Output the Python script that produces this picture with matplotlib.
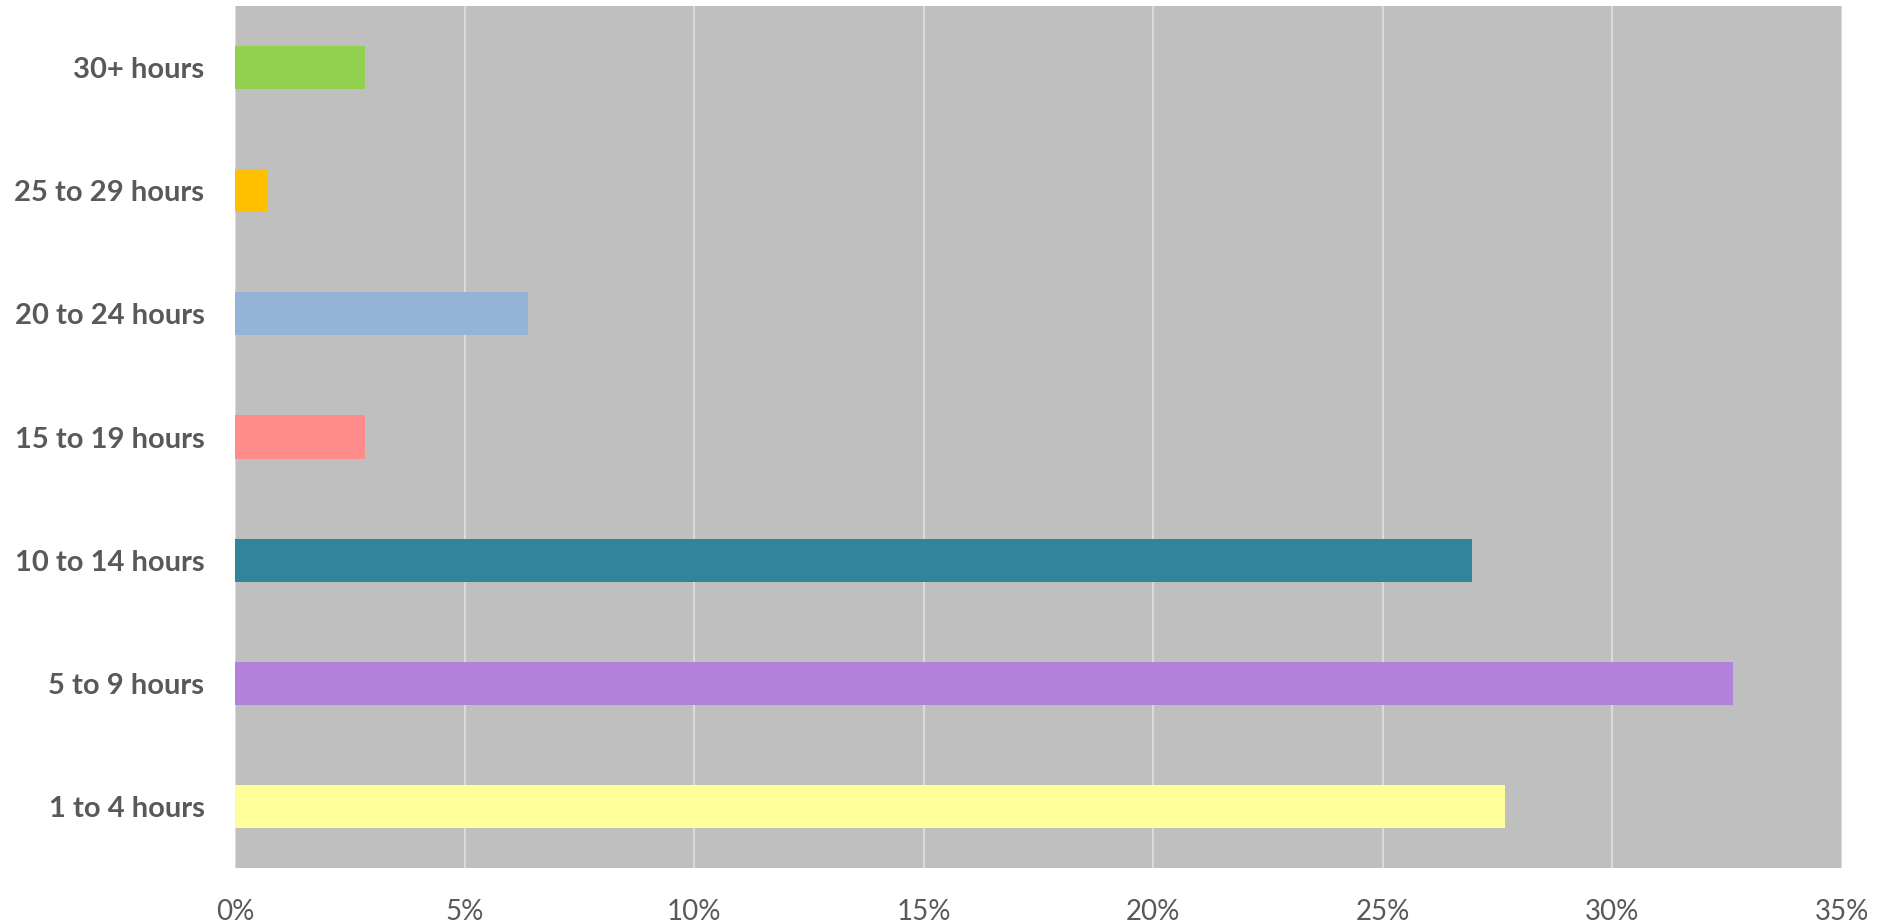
import matplotlib.pyplot as plt
from matplotlib.ticker import FuncFormatter

categories = ["1 to 4 hours", "5 to 9 hours", "10 to 14 hours", "15 to 19 hours",
              "20 to 24 hours", "25 to 29 hours", "30+ hours"]
values = [27.66, 32.62, 26.95, 2.84, 6.38, 0.71, 2.84]
colors = ["#FFFF99", "#B281DA", "#31849B", "#FF8B8B", "#95B3D7", "#FFC000", "#92D050"]

plt.rcParams["font.family"] = ["Lato", "DejaVu Sans"]

fig = plt.figure(figsize=(18.77, 9.23), dpi=100)
ax = fig.add_axes([235 / 1877, 1 - 868 / 923, (1842 - 235) / 1877, (868 - 6) / 923])

ax.set_facecolor("#BFBFBF")
ax.barh(range(len(categories)), values, height=0.35, color=colors, zorder=3)

ax.set_xlim(0, 35)
ax.set_ylim(-0.5, len(categories) - 0.5)
ax.set_xticks(range(0, 36, 5))
ax.xaxis.set_major_formatter(FuncFormatter(lambda v, p: f"{v:.0f}%"))
ax.set_yticks(range(len(categories)))
ax.set_yticklabels(categories, fontsize=21, fontweight="bold", color="#595959")
ax.tick_params(axis="x", labelsize=20, labelcolor="#595959", length=0, pad=22)
ax.tick_params(axis="y", length=0, pad=22)

ax.grid(axis="x", color="#D9D9D9", linewidth=1.5, zorder=1)
for s in ax.spines.values():
    s.set_visible(False)

fig.savefig("out.png", dpi=100)
